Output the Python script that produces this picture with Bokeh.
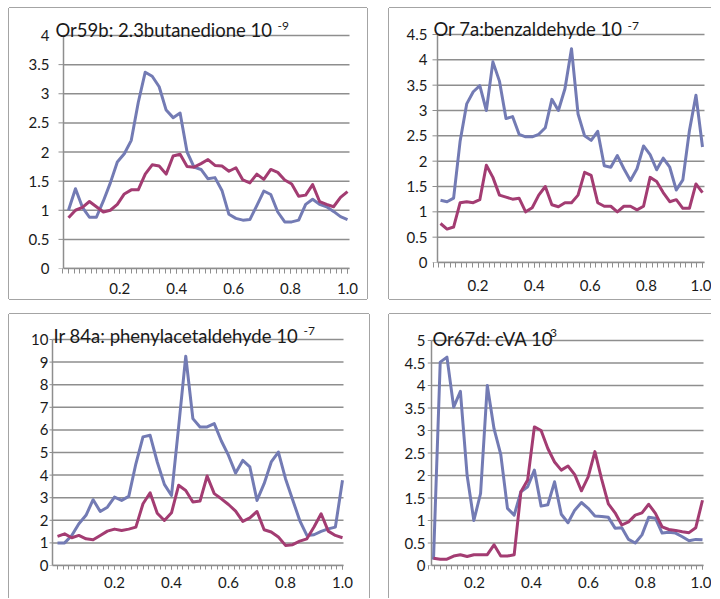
import numpy as np
from bokeh.plotting import figure
from bokeh.models import FixedTicker, CustomJSTickFormatter, Label, Range1d, Spacer
from bokeh.layouts import row, column
from bokeh.embed import file_html
from bokeh.resources import INLINE

# ---------------- data ----------------
N_POINTS = 41
x_tick_values = [0.2, 0.4, 0.6, 0.8, 1.0]
x_minor_unit = 0.02

p1_title = "Or59b: 2.3butanedione 10"
p1_sup = "-9"
p1_x_first = 0.02
p1_blue = [1.0, 1.37, 1.05, 0.88, 0.88, 1.16, 1.47, 1.83, 1.97, 2.2,
           2.85, 3.37, 3.3, 3.12, 2.72, 2.59, 2.67, 2.0, 1.74, 1.7,
           1.54, 1.56, 1.34, 0.93, 0.86, 0.83, 0.84, 1.08, 1.33, 1.27,
           0.97, 0.8, 0.8, 0.83, 1.1, 1.19, 1.1, 1.06, 0.98, 0.89, 0.84]
p1_mag = [0.87, 1.0, 1.05, 1.15, 1.06, 0.97, 1.0, 1.1, 1.28, 1.35,
          1.35, 1.62, 1.78, 1.76, 1.62, 1.93, 1.96, 1.75, 1.74, 1.8,
          1.87, 1.77, 1.76, 1.67, 1.73, 1.52, 1.47, 1.62, 1.53, 1.7,
          1.65, 1.52, 1.45, 1.24, 1.26, 1.44, 1.15, 1.1, 1.06, 1.22, 1.32]
p1_yticks = [0, 0.5, 1, 1.5, 2, 2.5, 3, 3.5, 4]

p2_title = "Or 7a:benzaldehyde 10"
p2_sup = "-7"
p2_x_first = 0.066
p2_blue = [1.23, 1.2, 1.27, 2.4, 3.13, 3.37, 3.49, 3.0, 3.96, 3.58,
           2.84, 2.88, 2.53, 2.48, 2.48, 2.53, 2.66, 3.22, 3.0, 3.43,
           4.22, 2.93, 2.5, 2.41, 2.59, 1.91, 1.88, 2.11, 1.85, 1.62,
           1.85, 2.3, 2.13, 1.83, 2.06, 1.88, 1.43, 1.63, 2.6, 3.3, 2.28]
p2_mag = [0.77, 0.66, 0.7, 1.18, 1.2, 1.18, 1.24, 1.92, 1.68, 1.33,
          1.29, 1.25, 1.27, 1.0, 1.08, 1.33, 1.5, 1.14, 1.1, 1.18,
          1.18, 1.33, 1.78, 1.72, 1.18, 1.11, 1.11, 1.0, 1.11, 1.11,
          1.04, 1.11, 1.68, 1.6, 1.38, 1.2, 1.24, 1.07, 1.07, 1.55, 1.38]
p2_yticks = [0, 0.5, 1, 1.5, 2, 2.5, 3, 3.5, 4, 4.5]

p3_title = "Ir 84a: phenylacetaldehyde 10"
p3_sup = "-7"
p3_x_first = 0.0
p3_blue = [1.0, 1.0, 1.33, 1.85, 2.22, 2.91, 2.39, 2.58, 3.03, 2.88,
           3.06, 4.5, 5.69, 5.76, 4.58, 3.59, 3.1, 6.13, 9.26, 6.5,
           6.13, 6.13, 6.28, 5.51, 4.87, 4.09, 4.65, 4.36, 2.88, 3.62,
           4.58, 5.02, 3.84, 2.91, 1.99, 1.33, 1.36, 1.51, 1.62, 1.7, 3.77]
p3_mag = [1.29, 1.4, 1.23, 1.33, 1.18, 1.14, 1.33, 1.52, 1.61, 1.55,
          1.61, 1.7, 2.73, 3.22, 2.31, 1.99, 2.33, 3.55, 3.32, 2.81,
          2.85, 3.96, 3.18, 2.95, 2.7, 2.41, 1.95, 2.11, 2.39, 1.58,
          1.48, 1.26, 0.89, 0.92, 1.08, 1.18, 1.7, 2.29, 1.52, 1.33, 1.23]
p3_yticks = [0, 1, 2, 3, 4, 5, 6, 7, 8, 9, 10]

p4_title = "Or67d: cVA 10"
p4_sup = "-3"
p4_x_first = 0.056
p4_blue = [0.13, 4.52, 4.63, 3.52, 3.87, 2.0, 1.0, 1.6, 4.0, 3.04,
           2.47, 1.27, 1.12, 1.64, 1.75, 2.12, 1.32, 1.35, 1.86, 1.14,
           0.95, 1.23, 1.4, 1.27, 1.1, 1.09, 1.07, 0.83, 0.84, 0.58,
           0.5, 0.68, 1.07, 1.05, 0.72, 0.74, 0.72, 0.64, 0.55, 0.58, 0.57]
p4_mag = [0.16, 0.14, 0.14, 0.21, 0.24, 0.2, 0.24, 0.24, 0.24, 0.46,
          0.21, 0.21, 0.24, 1.64, 1.9, 3.08, 3.0, 2.6, 2.3, 2.12,
          2.21, 2.02, 1.66, 1.97, 2.53, 1.92, 1.37, 1.17, 0.9, 0.97,
          1.12, 1.17, 1.36, 1.16, 0.86, 0.8, 0.78, 0.75, 0.73, 0.84, 1.45]
p4_yticks = [0, 0.5, 1, 1.5, 2, 2.5, 3, 3.5, 4, 4.5, 5]

# ---------------- style ----------------
BLUE = "#737bb4"
MAG = "#a33c72"
GRID = "#8e8e8e"
BOX = "#a4a4a4"
FONT = "Lato"
TXT = "#1a1a1a"


def panel(title, sup, x_first, blue, mag, yticks, g, shadow):
    ox, oy, w, h = g["fig"]
    fl, ft, fr, fb = g["frame"]
    first_px, last_px = g["pts"]
    axis_px, axis_right_px, grid_top_px = g["axis"]
    sx = (last_px - first_px) / (1.0 - x_first)

    def X(px):
        return x_first + (px - first_px) / sx

    ytop = yticks[-1]
    sy = (fb - grid_top_px) / ytop

    x = np.linspace(x_first, 1.0, N_POINTS)
    minor = [round(x_minor_unit * k, 4) for k in range(0, 51)]
    xa0, xa1 = X(axis_px), X(axis_right_px)
    ytick_len = g["yt"] / sx

    p = figure(frame_width=fr - fl, frame_height=fb - ft,
               min_border_left=fl - ox, min_border_right=ox + w - fr,
               min_border_top=ft - oy, min_border_bottom=oy + h - fb,
               x_range=Range1d(X(fl), X(fr)),
               y_range=Range1d(0, (fb - ft) / sy),
               output_backend="svg", toolbar_location=None)
    p.outline_line_color = None
    p.background_fill_color = "white"
    p.border_fill_color = "white"
    p.xgrid.grid_line_color = None
    p.ygrid.grid_line_color = None

    n = len(yticks)
    # horizontal gridlines from the y axis to the end of the x axis
    p.segment(x0=[xa0] * n, x1=[xa1] * n, y0=yticks, y1=yticks,
              line_color=GRID, line_width=1.5)
    # y axis rule and its outward tick marks
    p.segment(x0=[xa0 - ytick_len] * n, x1=[xa0] * n, y0=yticks, y1=yticks,
              line_color=GRID, line_width=1)
    p.segment(x0=[xa0], x1=[xa0], y0=[0], y1=[ytop],
              line_color=GRID, line_width=1.5)

    xa = p.xaxis[0]
    xa.ticker = FixedTicker(ticks=x_tick_values, minor_ticks=minor)
    xa.formatter = CustomJSTickFormatter(code="return tick.toFixed(1)")
    xa.bounds = (xa0, xa1)
    xa.axis_line_color = GRID
    xa.axis_line_width = 1.5
    xa.major_tick_line_color = GRID
    xa.minor_tick_line_color = GRID
    xa.major_tick_line_width = 1
    xa.minor_tick_line_width = 1
    xa.major_tick_in = 0
    xa.minor_tick_in = 0
    xa.major_tick_out = g["xt"][0]
    xa.minor_tick_out = g["xt"][0]
    xa.major_label_standoff = g["xt"][1]
    xa.major_label_text_font = FONT
    xa.major_label_text_font_size = "15px"
    xa.major_label_text_color = TXT

    ya = p.yaxis[0]
    ya.ticker = FixedTicker(ticks=yticks)
    ya.formatter = CustomJSTickFormatter(code="return String(tick)")
    ya.axis_line_color = None
    ya.major_tick_line_color = None
    ya.minor_tick_line_color = None
    ya.major_tick_in = 0
    ya.major_tick_out = 0
    ya.minor_tick_in = 0
    ya.minor_tick_out = 0
    ya.major_label_standoff = g["ys"]
    ya.major_label_text_font = FONT
    ya.major_label_text_font_size = "15px"
    ya.major_label_text_color = TXT

    p.line(x, blue, line_color=BLUE, line_width=3, line_join="round")
    p.line(x, mag, line_color=MAG, line_width=3, line_join="round")

    tx, tb = g["title"]
    sxp, sb = g["sup"]
    p.add_layout(Label(x=tx - fl, y=fb - tb, x_units="screen", y_units="screen",
                       text=title, text_font=FONT, text_font_size="18.5px",
                       text_color=TXT, text_baseline="alphabetic"))
    p.add_layout(Label(x=sxp - fl, y=fb - sb, x_units="screen", y_units="screen",
                       text=sup, text_font=FONT, text_font_size="12px",
                       text_color=TXT, text_baseline="alphabetic"))
    p.styles = {"box-shadow": shadow}
    return p


L = "-1px 0 0 0 " + BOX
T = "0 -1px 0 0 " + BOX
R = "1px 0 0 0 " + BOX
B = "0 1px 0 0 " + BOX

# page-pixel geometry of each panel
g1 = dict(fig=(9, 8, 358, 291), frame=(50, 8, 351, 268), pts=(68, 347),
          axis=(63, 349, 35), title=(55, 29), sup=(277, 25), yt=5, ys=1, xt=(5, 9))
g2 = dict(fig=(389, 8, 322, 291), frame=(429, 8, 706, 262), pts=(440, 702),
          axis=(437, 704, 34), title=(433, 28), sup=(627, 25), yt=5, ys=2, xt=(5, 12))
g3 = dict(fig=(9, 314, 360, 284), frame=(49, 314, 346, 565), pts=(57, 342),
          axis=(52, 343, 339), title=(53, 335), sup=(303, 330), yt=4, ys=1, xt=(4, 7))
g4 = dict(fig=(389, 314, 322, 284), frame=(427, 314, 705, 565), pts=(433, 702),
          axis=(431, 703, 340), title=(432, 338), sup=(545, 332), yt=4, ys=2, xt=(4, 7))

p1 = panel(p1_title, p1_sup, p1_x_first, p1_blue, p1_mag, p1_yticks, g1,
           ", ".join([L, T, R, B]))
p2 = panel(p2_title, p2_sup, p2_x_first, p2_blue, p2_mag, p2_yticks, g2,
           ", ".join([L, T, B]))
p3 = panel(p3_title, p3_sup, p3_x_first, p3_blue, p3_mag, p3_yticks, g3,
           ", ".join([L, T, R]))
p4 = panel(p4_title, p4_sup, p4_x_first, p4_blue, p4_mag, p4_yticks, g4,
           ", ".join([L, T]))

layout = column(
    Spacer(width=1, height=8),
    row(Spacer(width=9, height=1), p1, Spacer(width=22, height=1), p2),
    Spacer(width=1, height=15),
    row(Spacer(width=9, height=1), p3, Spacer(width=20, height=1), p4),
)

open("out.html", "w").write(file_html(layout, INLINE))
